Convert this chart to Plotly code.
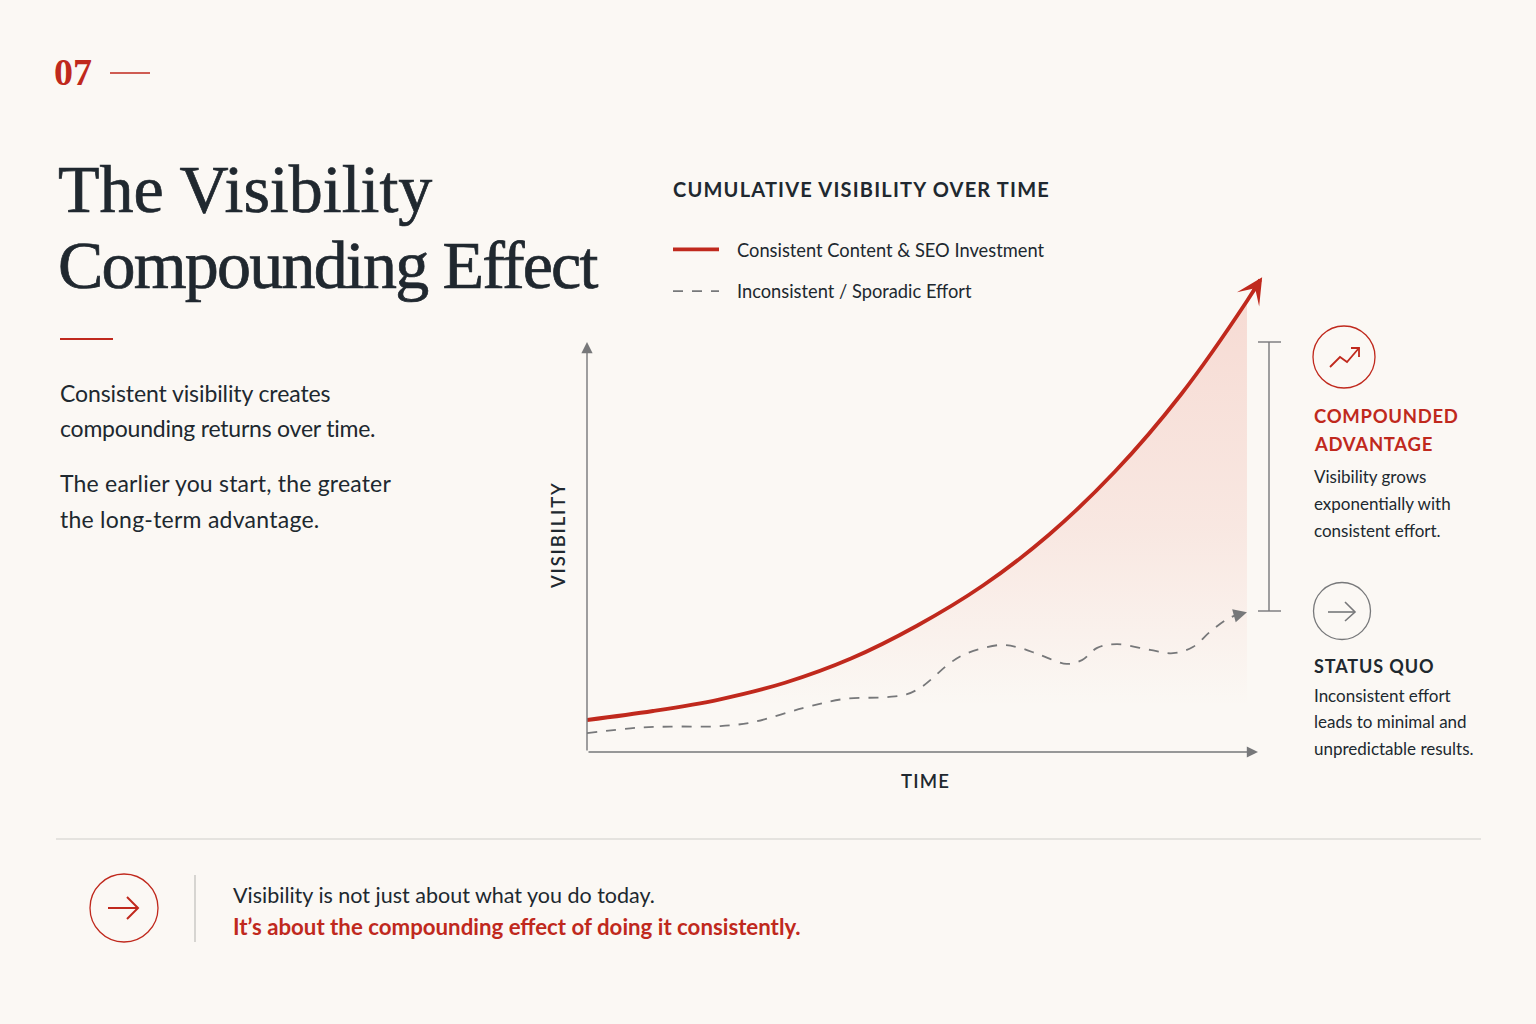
import json
import plotly.graph_objects as go

W, H = 1536, 1024
BG = "#FBF8F4"
RED = "#C0291D"
DARK = "#20282F"
GRAY = "#77787A"
SERIF = "Liberation Serif"
SANS = "Lato"

# values
time_consistent = [0, 10, 20, 30, 40, 50, 60, 70, 80, 90, 100, 102]
vis_consistent = [7.8, 10.0, 12.8, 16.9, 22.8, 30.8, 40.6, 53.0, 68.4, 87.2, 110.0, 115.2]

time_sporadic = [0, 7.6, 12.6, 20.2, 25.2, 32.7, 38.8, 45.5, 48.5, 50.9, 55, 57.6, 62.6,
                 65.6, 68.6, 72.7, 75, 77.3, 80.3, 85.3, 88.8, 91.8, 94.4, 97, 99]
vis_sporadic = [4.6, 5.9, 6.2, 6.3, 7.3, 10.7, 12.9, 13.4, 14.1, 16.1, 21.7, 24.1, 26.1,
                25.4, 23.7, 21.5, 22.4, 25.4, 26.3, 24.9, 24.1, 25.6, 29.3, 32.4, 33.8]

legend_names = ["Consistent Content & SEO Investment", "Inconsistent / Sporadic Effort"]
title_lines = ["The Visibility", "Compounding Effect"]

# plotly has no letter spacing option, set on the svg after drawing
letter_spacing = {
    "Compounding Effect": -1.8,
    "CUMULATIVE VISIBILITY OVER TIME": 1.2,
    "COMPOUNDED": 0.7,
    "ADVANTAGE": 0.7,
    "STATUS QUO": 0.9,
    "VISIBILITY": 1.8,
    "TIME": 1.2,
    "Consistent visibility creates": -0.1,
    "compounding returns over time.": -0.22,
    "The earlier you start, the greater": 0.2,
    "the long-term advantage.": 0.25,
}


def px(x):
    return x / W


def py(y):
    return 1 - y / H


def add_text(fig, x, y, text, size, color=DARK, family=SANS, weight=400):
    fig.add_annotation(xref="paper", yref="paper", x=px(x - 2), y=py(y), text=text, showarrow=False,
                       xanchor="left", yanchor="middle", align="left",
                       font=dict(family=family, size=size, color=color, weight=weight))


def add_rule(fig, x0, y0, x1, y1, color, width):
    fig.add_shape(type="line", xref="paper", yref="paper", x0=px(x0), y0=py(y0), x1=px(x1), y1=py(y1),
                  line=dict(color=color, width=width))


def add_circle(fig, cx, cy, r, color):
    fig.add_shape(type="circle", xref="paper", yref="paper", x0=px(cx - r), y0=py(cy - r),
                  x1=px(cx + r), y1=py(cy + r), line=dict(color=color, width=1.3))


def add_icon(fig, points, color, width):
    path = "M " + " L ".join(f"{px(a):.5f} {py(b):.5f}" for a, b in points)
    fig.add_shape(type="path", xref="paper", yref="paper", path=path, line=dict(color=color, width=width))


fig = go.Figure()

# gradient area under the red curve, stops at t=100
fig.add_trace(go.Scatter(x=time_consistent[:-1], y=vis_consistent[:-1], mode="lines", line=dict(width=0, shape="spline"),
                         fill="tozeroy", showlegend=False, hoverinfo="skip",
                         fillgradient=dict(type="vertical",
                                           colorscale=[[0, "rgba(225,80,55,0)"], [0.1, "rgba(225,80,55,0.0)"],
                                                       [0.3, "rgba(225,80,55,0.05)"], [0.5, "rgba(225,80,55,0.1)"],
                                                       [1, "rgba(225,80,55,0.17)"]])))

fig.add_trace(go.Scatter(x=time_consistent, y=vis_consistent, mode="lines", name=legend_names[0], legendgroup="a",
                         line=dict(color=RED, width=3.8, shape="spline"), hoverinfo="skip"))
fig.add_trace(go.Scatter(x=time_sporadic, y=vis_sporadic, mode="lines", name=legend_names[1], legendgroup="b",
                         line=dict(color=GRAY, width=1.8, shape="spline", dash="10px,9px"), hoverinfo="skip"))

# axis lines and arrow heads
for tip, tail, color, width, size, head in [
    ((102.3, 115.8), (100.8, 112.0), RED, 3.5, 1.25, 3),
    ((100, 34.1), (98.4, 33.4), GRAY, 2, 1.35, 2),
    ((101.67, 0), (0, 0), GRAY, 1.4, 1.6, 2),
    ((0, 100), (0, 0), GRAY, 1.4, 1.6, 2),
]:
    fig.add_annotation(x=tip[0], y=tip[1], ax=tail[0], ay=tail[1], axref="x", ayref="y", text="",
                       showarrow=True, arrowhead=head, arrowsize=size, arrowwidth=width, arrowcolor=color)

fig.update_xaxes(domain=[px(587), px(1264)], range=[0, 102.58], showline=False,
                 showgrid=False, zeroline=False, showticklabels=False, ticks="",
                 title=dict(text="TIME", standoff=23, font=dict(family=SANS, size=18.5, color=DARK, weight=600)))
fig.update_yaxes(domain=[py(752), py(270)], range=[0, 117.56], showline=False,
                 showgrid=False, zeroline=False, showticklabels=False, ticks="")
fig.add_annotation(xref="paper", yref="paper", x=px(558), y=py(535), text="VISIBILITY", showarrow=False, textangle=-90,
                   xanchor="center", yanchor="middle", font=dict(family=SANS, size=18.5, color=DARK, weight=600))

# left column
add_text(fig, 54, 72, "07", 38, RED, SERIF, 700)
add_rule(fig, 110, 73, 150, 73, RED, 1.6)
add_text(fig, 58, 189, title_lines[0], 68, DARK, SERIF)
add_text(fig, 58, 265, title_lines[1], 68, DARK, SERIF)
add_rule(fig, 60, 339, 113, 339, RED, 2.2)
for y, line in [(393, "Consistent visibility creates"), (428, "compounding returns over time."),
                (483, "The earlier you start, the greater"), (519, "the long-term advantage.")]:
    add_text(fig, 60, y, line, 23)

# chart heading
add_text(fig, 673, 189, "CUMULATIVE VISIBILITY OVER TIME", 20, DARK, SANS, 700)

# bracket between the curves
add_rule(fig, 1269, 342, 1269, 611, GRAY, 1.4)
add_rule(fig, 1258, 342, 1281, 342, GRAY, 1.4)
add_rule(fig, 1258, 611, 1281, 611, GRAY, 1.4)

# right notes
add_circle(fig, 1344, 357, 31, RED)
add_icon(fig, [(1330, 367), (1340, 357), (1347, 362), (1359, 348)], RED, 1.8)
add_icon(fig, [(1351, 348), (1359, 348), (1359, 357)], RED, 1.8)
add_text(fig, 1314, 416, "COMPOUNDED", 18.5, RED, SANS, 700)
add_text(fig, 1314, 444, "ADVANTAGE", 18.5, RED, SANS, 700)
for y, line in [(476, "Visibility grows"), (503, "exponentially with"), (530, "consistent effort.")]:
    add_text(fig, 1314, y, line, 17)

add_circle(fig, 1342, 611, 28.5, GRAY)
add_icon(fig, [(1328, 612), (1355, 612)], GRAY, 1.6)
add_icon(fig, [(1345, 602), (1355, 612), (1345, 621)], GRAY, 1.6)
add_text(fig, 1314, 666, "STATUS QUO", 18, DARK, SANS, 700)
for y, line in [(695, "Inconsistent effort"), (721, "leads to minimal and"), (748, "unpredictable results.")]:
    add_text(fig, 1314, y, line, 17)

# footer
add_rule(fig, 56, 839, 1481, 839, "#CFCECA", 1.1)
add_circle(fig, 124, 908, 34, RED)
add_icon(fig, [(108, 908), (138, 908)], RED, 2)
add_icon(fig, [(127, 897), (138, 908), (127, 919)], RED, 2)
add_rule(fig, 195, 875, 195, 942, "#B9B8B4", 1.1)
add_text(fig, 233, 895, "Visibility is not just about what you do today.", 21.5)
add_text(fig, 233, 926, "It’s about the compounding effect of doing it consistently.", 22.25, RED, SANS, 700)

fig.update_layout(width=W, height=H, autosize=False, margin=dict(l=0, r=0, t=0, b=0),
                  paper_bgcolor=BG, plot_bgcolor="rgba(0,0,0,0)", hovermode=False,
                  legend=dict(x=px(668), y=py(231), xanchor="left", yanchor="top", bgcolor="rgba(0,0,0,0)",
                              itemwidth=46, tracegroupgap=15,
                              font=dict(family=SANS, size=18.3, color=DARK)))

post = """
document.body.style.margin = '0';
var spacing = %s;
var heavy = %s;
document.querySelectorAll('svg text').forEach(function (t) {
    if (spacing[t.textContent] !== undefined) { t.style.letterSpacing = spacing[t.textContent] + 'px'; }
    if (heavy.indexOf(t.textContent) >= 0) { t.style.stroke = '%s'; t.style.strokeWidth = '0.7px'; }
});
document.querySelectorAll('.legendtext').forEach(function (t) {
    t.setAttribute('x', parseFloat(t.getAttribute('x')) + 13);
});
document.querySelectorAll('.legend .scrollbox').forEach(function (s) {
    s.removeAttribute('clip-path');
    s.style.clipPath = 'none';
});
""" % (json.dumps(letter_spacing), json.dumps(title_lines), DARK)

fig.write_html("out.html", post_script=post, config={"displayModeBar": False})
